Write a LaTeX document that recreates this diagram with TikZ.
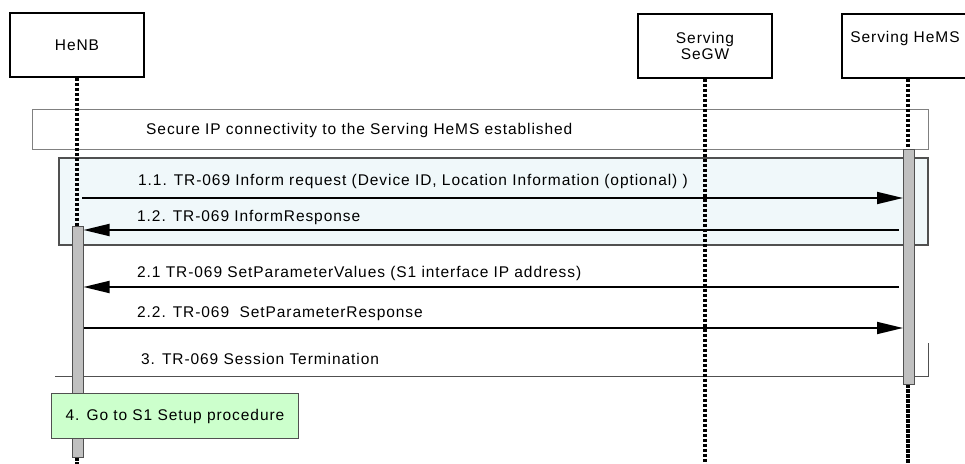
\documentclass[tikz,border=0pt]{standalone}
\usepackage{fontspec}
\setmainfont{Liberation Sans}[LetterSpace=6]
\usetikzlibrary{arrows.meta}
\definecolor{framefill}{RGB}{240,248,250}
\definecolor{notefill}{RGB}{204,255,204}
\definecolor{barfill}{RGB}{192,192,192}
\definecolor{edgegray}{RGB}{80,80,80}
\tikzset{
  participant/.style={draw=black, line width=1.3bp, fill=white, minimum width=134bp, minimum height=64bp, inner sep=0pt, align=center},
  lifeline/.style={line width=3.6bp, dash pattern=on 3.5bp off 1.5bp},
  actbar/.style={draw=edgegray, line width=0.9bp, fill=barfill, minimum width=11bp, inner sep=0pt},
  msg/.style={line width=1.8bp, -{Triangle[length=26bp,width=12bp]}},
  lbl/.style={anchor=west, inner sep=0pt},
  framebox/.style={draw=edgegray, line width=1.1bp, inner sep=0pt},
}
\begin{document}
\begin{tikzpicture}[x=1bp,y=-1bp, font=\fontsize{15.5bp}{17bp}\selectfont]
\useasboundingbox (0,0) rectangle (965,464);
% frames
\node[framebox, draw=gray, line width=0.9bp, minimum width=896bp, minimum height=40bp] (secure) at (480,129) {};
\node[lbl] (securetxt) at (146,130) {Secure IP connectivity to the Serving HeMS established};
\node[framebox, fill=framefill, minimum width=869bp, minimum height=87bp] (frame) at (493.5,201.5) {};
% session termination line
\coordinate (t3l) at (55,376);
\coordinate (t3r) at (928,376);
\coordinate (t3u) at (928,343);
\draw[edgegray, line width=0.9bp] (t3l) -- (t3r) -- (t3u);
\node[lbl] (t3txt) at (141,359) {3. TR-069 Session Termination};
% participants
\node[participant] (henb) at (77,45) {HeNB};
\node[participant] (segw) at (705,46) {Serving\\[-1.5bp]SeGW};
\node[participant] (hems) at (909,46) {};
\node (hemstxt) at (905,38) {Serving HeMS};
% activation bars
\node[actbar, minimum height=235bp] (hemsbar) at (908.5,266.5) {};
\node[actbar, minimum height=231bp] (henbbar) at (78,341.5) {};
% lifelines
\coordinate (henbend) at (77,470);
\coordinate (segwend) at (705,470);
\coordinate (hemsend) at (908,470);
\draw[lifeline] (henb.south) -- (henbbar.north -| henb.south);
\draw[lifeline] (henbbar.south -| henb.south) -- (henbend);
\draw[lifeline] (segw.south) -- (segwend);
\draw[lifeline] (hems.south -| hemsend) -- (hemsbar.north -| hemsend);
\draw[lifeline] (hemsbar.south -| hemsend) -- (hemsend);
% redraw bars over lifelines
\node[actbar, minimum height=235bp] at (908.5,266.5) {};
\node[actbar, minimum height=231bp] at (78,341.5) {};
% messages
\coordinate (m11s) at (82,198);
\coordinate (m11e) at (903,198);
\coordinate (m12s) at (899,230);
\coordinate (m12e) at (83.5,230);
\coordinate (m21s) at (899,287);
\coordinate (m21e) at (83.5,287);
\coordinate (m22s) at (83.5,328);
\coordinate (m22e) at (903,328);
\draw[msg] (m11s) -- (m11e);
\draw[msg] (m12s) -- (m12e);
\draw[msg] (m21s) -- (m21e);
\draw[msg] (m22s) -- (m22e);
\node[lbl] (l11) at (138,181) {1.1. TR-069 Inform request (Device ID, Location Information (optional) )};
\node[lbl] (l12) at (137,218) {1.2. TR-069 InformResponse};
\node[lbl] (l21) at (137,273) {2.1 TR-069 SetParameterValues (S1 interface IP address)};
\node[lbl] (l22) at (137,314) {2.2. TR-069\ \ SetParameterResponse};
% note
\node[draw=edgegray, line width=1bp, fill=notefill, minimum width=246bp, minimum height=44bp, inner sep=0pt] (note) at (175,416) {4. Go to S1 Setup procedure};
\end{tikzpicture}
\end{document}
